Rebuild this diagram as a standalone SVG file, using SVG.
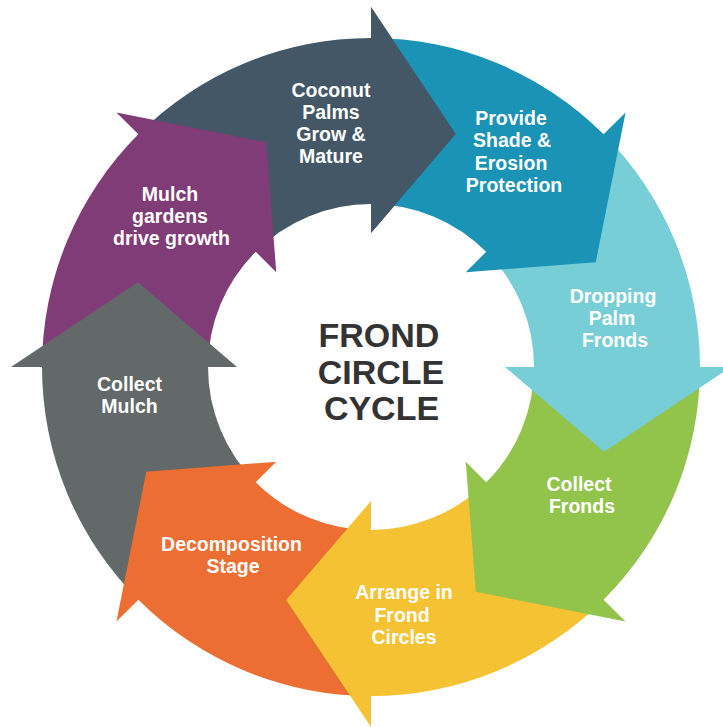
<svg xmlns="http://www.w3.org/2000/svg" xmlns:xlink="http://www.w3.org/1999/xlink" width="723" height="727" viewBox="0 0 723 727">
<style>
.lbl{font-family:"Liberation Sans",Arial,Helvetica,sans-serif;font-weight:bold;font-size:19.5px;fill:#ffffff;text-anchor:middle}
.ttl{font-family:"Liberation Sans",Arial,Helvetica,sans-serif;font-weight:bold;font-size:34px;fill:#333333;text-anchor:middle}
</style>
<defs>
<path id="head0" d="M 371,7 L 455.82,133.96 L 371,233 Z"/>
</defs>
<rect width="723" height="727" fill="#ffffff"/>
<g id="connectors"></g>
<g id="node-coconut">
<path fill="#435766" d="M 138.36,134.36 A 329 329 0 0 1 371,38 L 371,7 L 455.82,133.96 L 371,233 L 371,204 A 163 163 0 0 0 255.74,251.74 Z"/>
<text class="lbl" x="331"><tspan x="331" y="97">Coconut</tspan><tspan x="331" y="119">Palms</tspan><tspan x="331" y="141">Grow &amp;</tspan><tspan x="331" y="163">Mature</tspan></text>
</g>
<g id="node-mulch-gardens">
<path fill="#7F3C76" d="M 42,367 A 329 329 0 0 1 138.36,134.36 L 116.44,112.44 L 266.19,142.24 L 276.25,272.25 L 255.74,251.74 A 163 163 0 0 0 208,367 Z"/>
<text class="lbl"><tspan x="170" y="201">Mulch</tspan><tspan x="170" y="223">gardens</tspan><tspan x="171.5" y="245">drive growth</tspan></text>
</g>
<g id="node-collect-mulch">
<path fill="#636968" d="M 138.36,599.64 A 329 329 0 0 1 42,367 L 11,367 L 137.96,282.18 L 237,367 L 208,367 A 163 163 0 0 0 255.74,482.26 Z"/>
<text class="lbl"><tspan x="129.5" y="391">Collect</tspan><tspan x="129.5" y="413">Mulch</tspan></text>
</g>
<g id="node-decomposition">
<path fill="#EC6E32" d="M 371,696 A 329 329 0 0 1 138.36,599.64 L 116.44,621.56 L 146.24,471.81 L 276.25,461.75 L 255.74,482.26 A 163 163 0 0 0 371,530 Z"/>
<text class="lbl"><tspan x="231.5" y="551">Decomposition</tspan><tspan x="233" y="573">Stage</tspan></text>
</g>
<g id="node-arrange">
<path fill="#F4C233" d="M 603.64,599.64 A 329 329 0 0 1 371,696 L 371,727 L 286.18,600.04 L 371,501 L 371,530 A 163 163 0 0 0 486.26,482.26 Z"/>
<text class="lbl"><tspan x="404" y="599">Arrange in</tspan><tspan x="402" y="622">Frond</tspan><tspan x="404" y="644">Circles</tspan></text>
</g>
<g id="node-collect-fronds">
<path fill="#92C44C" d="M 700,367 A 329 329 0 0 1 603.64,599.64 L 625.56,621.56 L 475.81,591.76 L 465.75,461.75 L 486.26,482.26 A 163 163 0 0 0 534,367 Z"/>
<text class="lbl"><tspan x="579" y="491">Collect</tspan><tspan x="582" y="513">Fronds</tspan></text>
</g>
<g id="node-dropping">
<path fill="#78CED7" d="M 603.64,134.36 A 329 329 0 0 1 700,367 L 731,367 L 604.04,451.82 L 505,367 L 534,367 A 163 163 0 0 0 486.26,251.74 Z"/>
<text class="lbl"><tspan x="613" y="303">Dropping</tspan><tspan x="612" y="325">Palm</tspan><tspan x="615" y="347">Fronds</tspan></text>
</g>
<g id="node-provide">
<path fill="#1B93B6" d="M 371,38 A 329 329 0 0 1 603.64,134.36 L 625.56,112.44 L 595.76,262.19 L 465.75,272.25 L 486.26,251.74 A 163 163 0 0 0 371,204 Z"/>
<text class="lbl"><tspan x="511" y="125">Provide</tspan><tspan x="512" y="147">Shade &amp;</tspan><tspan x="511" y="170">Erosion</tspan><tspan x="514" y="192">Protection</tspan></text>
</g>
<g id="node-coconut-head">
<use xlink:href="#head0" href="#head0" fill="#435766"/>
</g>
<g id="title">
<text class="ttl"><tspan x="379" y="347">FROND</tspan><tspan x="381" y="384">CIRCLE</tspan><tspan x="381.5" y="420">CYCLE</tspan></text>
</g>
</svg>
